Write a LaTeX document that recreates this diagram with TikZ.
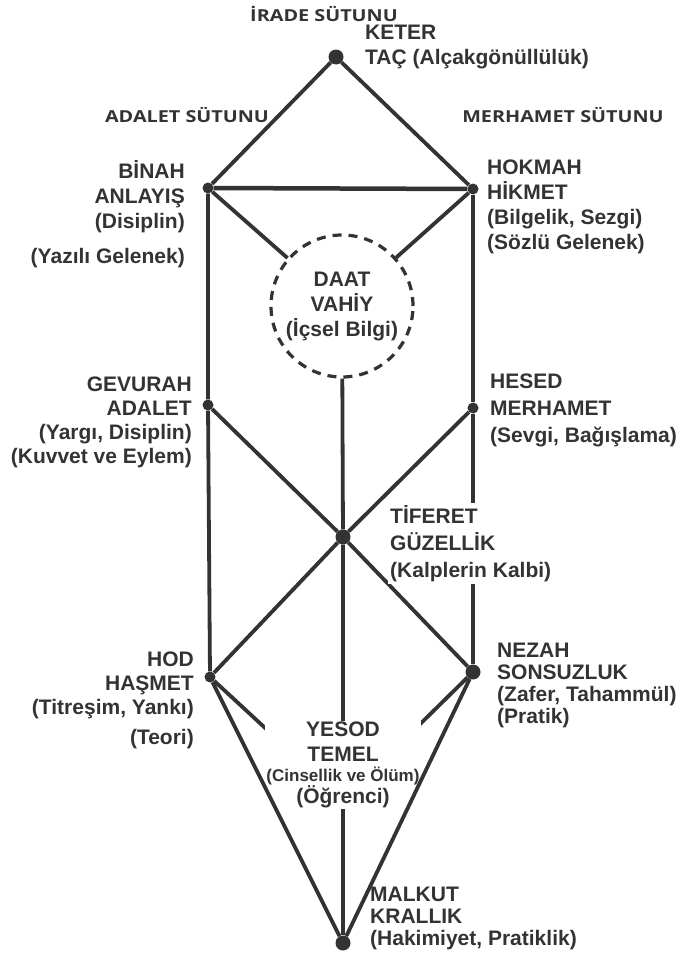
\documentclass[tikz,border=0pt]{standalone}
\usepackage{fontspec}
\setmainfont{Liberation Sans}
\newfontfamily\pillarfont[FakeStretch=1.2]{Open Sans}
\usetikzlibrary{positioning}
\definecolor{ink}{HTML}{333333}

\begin{document}
\begin{tikzpicture}[x=1pt, y=-1pt,
    sefira/.style={circle, fill=ink, inner sep=0pt, minimum size=15pt},
    halfdot/.style={circle, fill=ink, inner sep=0pt, minimum size=11pt},
    conn/.style={draw=ink, line width=3.8pt},
    lbl/.style={font=\fontsize{21}{#1}\selectfont\bfseries, text=ink, inner sep=0pt},
    lbl/.default=25,
    pillar/.style={font=\pillarfont\fontsize{16.5}{20}\selectfont\bfseries, text=ink, inner sep=0pt}
]
    \useasboundingbox (0,0) rectangle (688,961);

    % Sefirot (manual layout, pixel grid)
    \node[sefira]  (keter)   at (336,57)  {};
    \node[halfdot] (binah)   at (208,188) {};
    \node[halfdot] (hokmah)  at (473,189) {};
    \node[halfdot] (gevurah) at (208,405) {};
    \node[halfdot] (hesed)   at (473,408) {};
    \node[sefira]  (tiferet) at (343,537) {};
    \node[halfdot] (hod)     at (210,677) {};
    \node[sefira]  (nezah)   at (473,672) {};
    \coordinate    (yesod)   at (343,800);
    \node[sefira]  (malkut)  at (343,943) {};

    % Daat (hidden sefira)
    \node[circle, draw=ink, line width=3.2pt, dash pattern=on 9pt off 7pt,
          minimum size=142pt, inner sep=0pt, align=center, lbl] (daat) at (342,306)
          {DAAT\\VAHİY\\(İçsel Bilgi)};

    % Pillars
    \node[pillar] (irade)    at (324,14)  {İRADE SÜTUNU};
    \node[pillar] (adalet)   at (187,115) {ADALET SÜTUNU};
    \node[pillar] (merhamet) at (563,115) {MERHAMET SÜTUNU};

    % Paths
    \draw[conn] (keter) -- (binah);
    \draw[conn] (keter) -- (hokmah);
    \draw[conn, line width=4.5pt] (binah) -- (hokmah);
    \draw[conn] (binah) -- (gevurah) -- (hod);
    \draw[conn] (hokmah) -- (hesed) -- (nezah);
    \draw[conn] (binah) -- (daat);
    \draw[conn] (hokmah) -- (daat);
    \draw[conn] (daat) -- (tiferet) -- (yesod);
    \draw[conn] (gevurah) -- (tiferet) -- (nezah);
    \draw[conn] (hesed) -- (tiferet) -- (hod);
    \draw[conn] (hod) -- (yesod) -- (nezah);
    \draw[conn] (yesod) -- (malkut);

    % Yesod label sits on top of its paths
    \node[lbl, anchor=north, align=center, fill=white, inner sep=1pt] (yesodlbl) at (343,721)
        {YESOD\\TEMEL\\[-5pt]{\fontsize{17}{20}\selectfont(Cinsellik ve Ölüm)}\\[-3pt](Öğrenci)};

    \draw[conn] (hod) -- (malkut) -- (nezah);

    % Labels
    \node[lbl, anchor=north west, align=left] (keterlbl) at (365,25)
        {KETER\\TAÇ (Alçakgönüllülük)};
    \node[lbl, anchor=north west, align=left] (hokmahlbl) at (487,160)
        {HOKMAH\\HİKMET\\(Bilgelik, Sezgi)\\(Sözlü Gelenek)};
    \node[lbl, anchor=north east, align=right] (binahlbl) at (185,160)
        {BİNAH\\ANLAYIŞ\\(Disiplin)\\[10pt](Yazılı Gelenek)};
    \node[lbl=24, anchor=north east, align=right] (gevurahlbl) at (192,377)
        {GEVURAH\\ADALET\\(Yargı, Disiplin)\\(Kuvvet ve Eylem)};
    \node[lbl=27, anchor=north west, align=left] (hesedlbl) at (490,374)
        {HESED\\MERHAMET\\(Sevgi, Bağışlama)};
    \node[lbl=27, anchor=north west, align=left, fill=white, inner sep=2pt] (tiferetlbl) at (388,503)
        {TİFERET\\GÜZELLİK\\(Kalplerin Kalbi)};
    \node[lbl=24, anchor=north east, align=right] (hodlbl) at (194,652)
        {HOD\\HAŞMET\\(Titreşim, Yankı)\\[6pt](Teori)};
    \node[lbl=22, anchor=north west, align=left] (nezahlbl) at (497,643)
        {NEZAH\\SONSUZLUK\\(Zafer, Tahammül)\\(Pratik)};
    \node[lbl=22, anchor=north west, align=left] (malkutlbl) at (370,887)
        {MALKUT\\KRALLIK\\(Hakimiyet, Pratiklik)};
\end{tikzpicture}
\end{document}
